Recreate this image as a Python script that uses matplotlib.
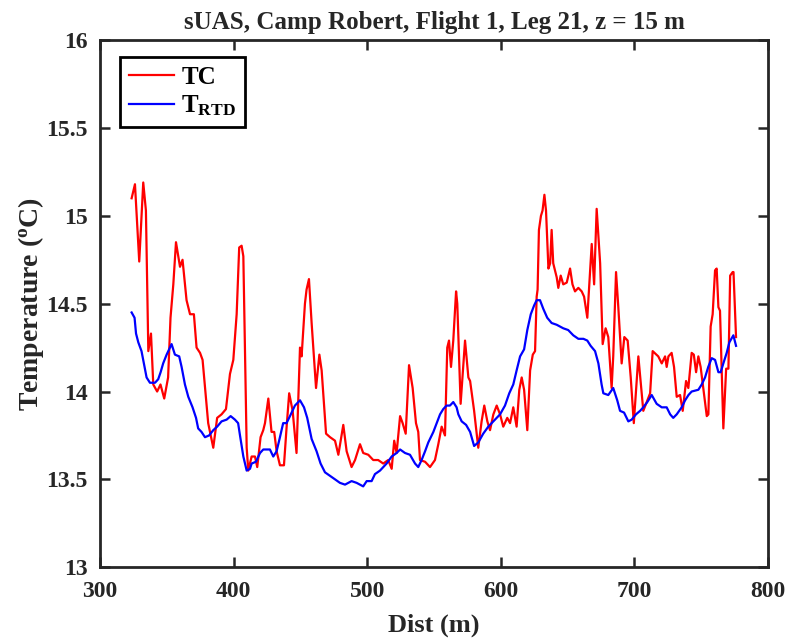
import numpy as np
import matplotlib
matplotlib.use('Agg')
import matplotlib.pyplot as plt

# TC (thermocouple) trace
tc_dist = [323.7, 326.2, 329.4, 332.4, 334.4, 336.2, 338.2, 339.9, 342.8, 345.3,
           348.1, 351.0, 352.8, 354.9, 356.9, 359.9, 361.8, 364.8, 367.4, 370.3,
           372.3, 374.9, 376.8, 381.0, 384.8, 387.7, 391.0, 394.3, 397.3, 399.8,
           402.3, 404.2, 406.0, 407.3, 409.8, 411.0, 413.5, 416.0, 417.7, 420.2,
           422.2, 423.5, 426.0, 428.4, 430.4, 432.2, 434.7, 437.7, 439.7, 441.6,
           444.2, 447.1, 449.7, 450.9, 453.4, 454.6, 456.4, 458.4, 461.7, 464.2,
           465.9, 469.2, 472.2, 475.9, 478.4, 482.1, 484.6, 488.3, 490.9, 494.6,
           497.0, 500.8, 504.5, 508.2, 512.0, 515.7, 518.3, 520.2, 522.0, 524.6,
           526.5, 528.8, 531.3, 534.0, 536.5, 538.2, 539.5, 543.3, 547.0, 550.7,
           553.2, 555.7, 558.2, 559.9, 561.2, 562.7, 564.4, 566.5, 567.4, 569.9,
           573.2, 575.7, 577.0, 580.0, 583.1, 585.6, 587.6, 589.9, 591.9, 594.4,
           596.9, 599.4, 601.8, 604.8, 606.9, 609.3, 611.8, 613.8, 615.6, 617.4,
           619.8, 621.9, 623.9, 625.6, 626.8, 627.5, 628.5, 630.0, 631.2, 632.6,
           633.8, 635.6, 636.9, 638.0, 639.2, 641.8, 643.0, 644.8, 646.7, 649.3,
           651.8, 653.6, 655.5, 658.0, 660.5, 662.3, 664.7, 668.0, 669.8, 671.7,
           674.3, 676.2, 678.4, 680.4, 682.9, 684.1, 686.2, 687.9, 690.4, 692.4,
           694.9, 697.2, 699.5, 702.9, 706.6, 711.7, 713.6, 717.8, 720.4, 722.9,
           724.1, 725.4, 727.8, 729.6, 731.6, 734.1, 736.1, 738.6, 740.3, 742.8,
           744.4, 746.1, 747.8, 749.5, 751.5, 754.1, 755.3, 757.0, 758.5, 760.3,
           761.5, 762.8, 764.0, 766.5, 768.6, 770.3, 771.6, 773.5, 774.1, 776.0]
tc_temp = [15.10, 15.18, 14.74, 15.19, 15.03, 14.23, 14.33, 14.04, 14.00, 14.04,
           13.96, 14.08, 14.42, 14.61, 14.85, 14.71, 14.75, 14.52, 14.44, 14.44,
           14.25, 14.22, 14.18, 13.82, 13.68, 13.85, 13.87, 13.90, 14.10, 14.18,
           14.44, 14.82, 14.83, 14.77, 13.68, 13.55, 13.63, 13.63, 13.57, 13.74,
           13.78, 13.82, 13.96, 13.77, 13.77, 13.66, 13.58, 13.58, 13.80, 13.99,
           13.89, 13.65, 14.25, 14.20, 14.50, 14.58, 14.64, 14.39, 14.02, 14.21,
           14.12, 13.76, 13.74, 13.72, 13.64, 13.81, 13.66, 13.57, 13.61, 13.70,
           13.65, 13.64, 13.61, 13.61, 13.59, 13.61, 13.56, 13.72, 13.65, 13.86,
           13.82, 13.76, 14.15, 14.02, 13.82, 13.77, 13.61, 13.60, 13.57, 13.61,
           13.70, 13.80, 13.75, 14.25, 14.29, 14.14, 14.29, 14.57, 14.50, 13.93,
           14.29, 14.08, 14.06, 13.89, 13.68, 13.83, 13.92, 13.83, 13.78, 13.87,
           13.92, 13.87, 13.80, 13.85, 13.82, 13.91, 13.80, 14.01, 14.08, 14.01,
           13.78, 14.12, 14.21, 14.23, 14.54, 14.58, 14.92, 15.00, 15.03, 15.12,
           15.03, 14.70, 14.73, 14.92, 14.73, 14.65, 14.59, 14.66, 14.61, 14.62,
           14.70, 14.61, 14.57, 14.59, 14.57, 14.54, 14.42, 14.84, 14.61, 15.04,
           14.73, 14.27, 14.36, 14.31, 14.02, 14.20, 14.68, 14.48, 14.16, 14.31,
           14.29, 14.08, 13.82, 14.20, 13.89, 13.99, 14.23, 14.20, 14.16, 14.20,
           14.14, 14.20, 14.22, 14.14, 13.97, 13.98, 13.89, 14.06, 14.02, 14.22,
           14.21, 14.11, 14.20, 14.14, 14.02, 13.86, 13.87, 14.37, 14.44, 14.69,
           14.70, 14.48, 14.46, 13.79, 14.13, 14.13, 14.66, 14.68, 14.68, 14.31]

# RTD trace
rtd_dist = [323.7, 325.9, 327.0, 328.7, 331.1, 332.9, 334.9, 337.4, 341.2, 343.6,
            345.4, 347.3, 349.9, 353.6, 356.1, 359.3, 361.1, 363.6, 366.1, 369.3,
            371.9, 373.5, 376.0, 378.6, 381.7, 384.8, 387.7, 391.0, 394.8, 397.8,
            401.0, 403.4, 404.8, 407.3, 409.8, 412.3, 413.5, 416.7, 419.8, 422.2,
            427.2, 429.7, 432.2, 434.7, 437.1, 439.6, 442.2, 445.9, 449.7, 452.7,
            455.1, 458.4, 462.1, 465.1, 468.4, 472.2, 475.9, 479.6, 483.4, 488.3,
            492.1, 497.0, 499.6, 503.3, 505.8, 509.6, 514.5, 518.3, 522.0, 524.6,
            528.3, 532.0, 535.8, 538.2, 540.7, 543.3, 545.7, 549.5, 552.0, 554.5,
            556.9, 559.4, 561.9, 564.4, 566.9, 568.2, 570.7, 574.0, 577.0, 580.0,
            583.1, 586.8, 590.6, 594.4, 599.4, 603.1, 606.3, 609.3, 611.8, 614.4,
            617.4, 619.8, 622.4, 624.9, 626.8, 629.3, 631.8, 634.7, 638.0, 641.8,
            646.7, 650.4, 654.2, 658.0, 661.8, 664.7, 667.2, 670.5, 673.0, 675.4,
            676.7, 680.4, 684.1, 687.1, 689.2, 692.2, 695.4, 697.9, 701.1, 704.2,
            706.6, 709.6, 712.9, 716.6, 720.4, 724.1, 726.7, 729.0, 731.6, 735.3,
            737.9, 740.4, 742.8, 747.8, 750.3, 752.8, 755.2, 757.8, 760.3, 762.8,
            764.5, 766.5, 769.0, 771.0, 774.0, 776.0]
rtd_temp = [14.45, 14.42, 14.33, 14.28, 14.23, 14.16, 14.08, 14.05, 14.05, 14.07,
            14.11, 14.16, 14.21, 14.27, 14.21, 14.20, 14.14, 14.04, 13.97, 13.91,
            13.85, 13.79, 13.77, 13.74, 13.75, 13.78, 13.80, 13.83, 13.84, 13.86,
            13.84, 13.82, 13.75, 13.63, 13.55, 13.56, 13.59, 13.60, 13.65, 13.67,
            13.67, 13.63, 13.66, 13.74, 13.82, 13.82, 13.86, 13.92, 13.95, 13.91,
            13.85, 13.73, 13.66, 13.59, 13.54, 13.52, 13.50, 13.48, 13.47, 13.49,
            13.48, 13.46, 13.49, 13.49, 13.53, 13.55, 13.59, 13.63, 13.65, 13.67,
            13.65, 13.64, 13.59, 13.57, 13.61, 13.66, 13.71, 13.77, 13.82, 13.87,
            13.90, 13.92, 13.92, 13.94, 13.91, 13.87, 13.83, 13.81, 13.77, 13.69,
            13.71, 13.76, 13.80, 13.83, 13.87, 13.92, 13.99, 14.04, 14.12, 14.20,
            14.24, 14.35, 14.44, 14.49, 14.52, 14.52, 14.47, 14.42, 14.39, 14.38,
            14.36, 14.35, 14.32, 14.30, 14.30, 14.29, 14.26, 14.23, 14.16, 14.04,
            13.99, 13.98, 14.02, 13.95, 13.89, 13.88, 13.83, 13.84, 13.87, 13.89,
            13.91, 13.94, 13.98, 13.93, 13.91, 13.91, 13.87, 13.85, 13.87, 13.91,
            13.95, 13.98, 14.00, 14.01, 14.04, 14.08, 14.14, 14.19, 14.18, 14.11,
            14.11, 14.16, 14.22, 14.28, 14.32, 14.26]

xticks = [300, 400, 500, 600, 700, 800]
yticks = [13, 13.5, 14, 14.5, 15, 15.5, 16]

plt.rcParams['font.family'] = 'Liberation Serif'
plt.rcParams['font.weight'] = 'bold'
plt.rcParams['mathtext.fontset'] = 'custom'
plt.rcParams['mathtext.rm'] = 'Liberation Serif:bold'
plt.rcParams['mathtext.bf'] = 'Liberation Serif:bold'
plt.rcParams['mathtext.it'] = 'Liberation Serif:bold'

axc = '#262626'
fig = plt.figure(figsize=(7.87, 6.38), dpi=100)
ax = fig.add_axes([0.127, 0.111, 0.849, 0.826])

ax.plot(tc_dist, tc_temp, color='#ff0000', lw=1.6, label='TC')
ax.plot(rtd_dist, rtd_temp, color='#0000ff', lw=1.6, label=r'T$_{\rm RTD}$')

ax.set_xlim(300, 800)
ax.set_ylim(13, 16)
ax.set_xticks(xticks)
ax.set_yticks(yticks)
ax.set_yticklabels(['13', '13.5', '14', '14.5', '15', '15.5', '16'])
ax.tick_params(direction='in', length=7, width=1.8, top=True, right=True,
               labelsize=17, colors=axc)
ax.tick_params(axis='x', pad=10)
ax.tick_params(axis='y', pad=9)
for lab in ax.get_xticklabels() + ax.get_yticklabels():
    lab.set_fontweight('bold')
for sp in ax.spines.values():
    sp.set_linewidth(2.0)
    sp.set_color(axc)

ax.set_xlabel('Dist (m)', fontsize=19, fontweight='bold', color=axc, labelpad=8)
ax.set_ylabel(r'Temperature ($^{\rm o}$C)', fontsize=20, fontweight='bold', color=axc, labelpad=0)
ax.set_title('sUAS, Camp Robert, Flight 1, Leg 21, z = 15 m', fontsize=18,
             fontweight='bold', color=axc, pad=8)

leg = ax.legend(loc='upper left', bbox_to_anchor=(0.03, 0.968), fontsize=18,
                frameon=True, fancybox=False, edgecolor='black', framealpha=1,
                handlelength=1.8, borderpad=0.35, labelspacing=0.2, handletextpad=0.3,
                borderaxespad=0)
leg.get_frame().set_linewidth(2.0)

fig.savefig('out.png', dpi=100)
